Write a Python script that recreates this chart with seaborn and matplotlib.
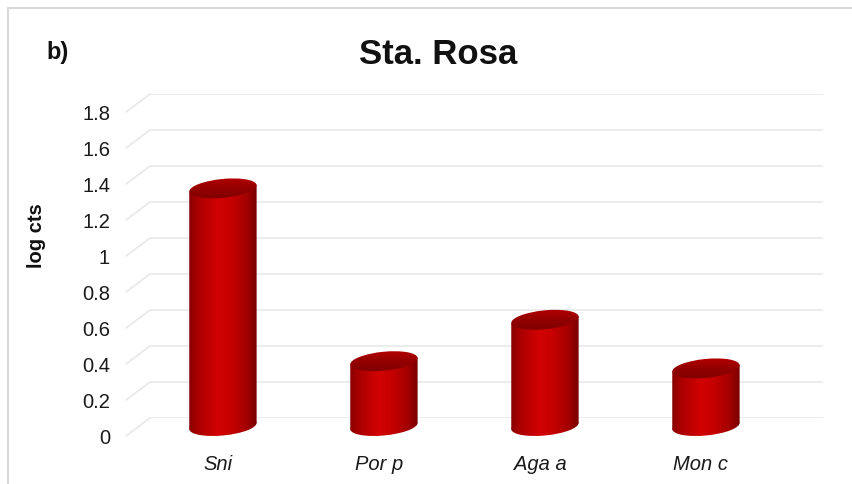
import numpy as np
import pandas as pd
import matplotlib
matplotlib.use("Agg")
import matplotlib.pyplot as plt
from matplotlib.colors import LinearSegmentedColormap
from matplotlib.patches import Ellipse, Polygon, Rectangle
from matplotlib.transforms import ScaledTranslation, IdentityTransform
from matplotlib.lines import Line2D
import seaborn as sns

# Species counts (log scale) at Sta. Rosa
species = ["Sni", "Por p", "Aga a", "Mon c"]
log_cts = [1.32, 0.36, 0.59, 0.32]
y_ticks = [0, 0.2, 0.4, 0.6, 0.8, 1.0, 1.2, 1.4, 1.6, 1.8]
y_tick_labels = ["0", "0.2", "0.4", "0.6", "0.8", "1", "1.2", "1.4", "1.6", "1.8"]

sns.set_style("white")
plt.rcParams["font.family"] = ["Liberation Sans", "DejaVu Sans"]

DPI = 100
W, H = 852, 484
fig = plt.figure(figsize=(W / DPI, H / DPI), dpi=DPI)
fig.patch.set_facecolor("white")

# back wall of the pseudo-3D plot area (pixels)
wall_l, wall_r, wall_top, wall_bot = 150, 823, 94, 418
ax = fig.add_axes([wall_l / W, (H - wall_bot) / H,
                   (wall_r - wall_l) / W, (wall_bot - wall_top) / H])

df = pd.DataFrame({"species": species, "log_cts": log_cts})
sns.barplot(data=df, x="species", y="log_cts", color="#c00000",
            saturation=1, width=0.42, ax=ax, zorder=3)

XLIM = (-0.453, 3.727)
YLIM = (0, 1.8)
ax.set_xlim(*XLIM)
ax.set_ylim(*YLIM)

# depth offsets: bars sit a little in front of the wall, labels at the front edge
def px(dx, dy):
    return ScaledTranslation(dx / DPI, dy / DPI, fig.dpi_scale_trans)

body_tf = ax.transData + px(0, -8)

body_cmap = LinearSegmentedColormap.from_list(
    "cyl", [(0.0, "#860000"), (0.12, "#a80000"), (0.42, "#d20202"),
            (0.62, "#c60000"), (0.85, "#a30000"), (1.0, "#780000")])
top_cmap = LinearSegmentedColormap.from_list(
    "cap", [(0.0, "#7e0000"), (0.55, "#960000"), (1.0, "#b60000")])

cap_h = 0.105        # ellipse height in data units
tilt = np.deg2rad(5)
grad = np.linspace(0, 1, 256)[None, :]
vgrad = np.linspace(1, 0, 128)[:, None] * np.ones((1, 64))


def clipped_image(data, cmap, extent, clip, z):
    im = ax.imshow(data, cmap=cmap, aspect="auto", interpolation="bicubic",
                   extent=extent, zorder=z)
    im.set_transform(body_tf)
    im.set_clip_path(clip)
    im.set_clip_box(fig.bbox)
    return im


for p in list(ax.patches):
    x0, w, h = p.get_x(), p.get_width(), p.get_height()
    xc = x0 + w / 2
    p.set_transform(body_tf)
    p.set_facecolor("none")
    p.set_edgecolor("none")

    hw = w / 2
    dxe, dye = hw * np.cos(tilt), hw * np.sin(tilt)

    # bottom cap
    bot = Ellipse((xc, 0), w, cap_h, angle=np.rad2deg(tilt), transform=body_tf)
    clipped_image(grad, body_cmap, [x0, x0 + w, -cap_h, cap_h], bot, 3)

    # cylinder body
    body = Polygon([(xc - dxe, -dye), (xc + dxe, dye),
                    (xc + dxe, h + dye), (xc - dxe, h - dye)],
                   closed=True, transform=body_tf)
    clipped_image(grad, body_cmap, [x0, x0 + w, -cap_h, h + cap_h], body, 3.1)

    # top cap
    top = Ellipse((xc, h), w, cap_h, angle=np.rad2deg(tilt), transform=body_tf)
    clipped_image(vgrad, top_cmap, [x0, x0 + w, h - cap_h * 0.6, h + cap_h * 0.6], top, 3.2)

ax.set_xlim(*XLIM)
ax.set_ylim(*YLIM)

# wall gridlines
ax.set_yticks(y_ticks)
ax.set_yticklabels(y_tick_labels)
ax.yaxis.grid(True, color="#e9e9e9", linewidth=1.2)
ax.xaxis.grid(False)
ax.set_axisbelow(True)
for s in ax.spines.values():
    s.set_visible(False)
ax.set_xlabel("")
ax.set_ylabel("")

ax.tick_params(axis="y", length=0, pad=11.5, labelsize=14.5, labelcolor="#1a1a1a")
ax.tick_params(axis="x", length=0, pad=26.5, labelsize=14.5, labelcolor="#1a1a1a")
for lab in ax.get_yticklabels():
    lab.set_transform(lab.get_transform() + px(-24, -18))
for lab in ax.get_xticklabels():
    lab.set_fontstyle("italic")
    lab.set_transform(lab.get_transform() + px(-5, 0))

# floor-to-wall diagonals at each gridline
fig.canvas.draw()
for v in y_ticks:
    bx, by = ax.get_yaxis_transform().transform((0, v))
    fig.add_artist(Line2D([bx - 24, bx], [by - 18, by], transform=IdentityTransform(),
                          color="#e9e9e9", linewidth=1.2))

# titles
fig.text(438.5 / W, 1 - 54 / H, "Sta. Rosa", ha="center", va="center",
         fontsize=25, fontweight="bold", color="#111111")
fig.text(46 / W, 1 - 52 / H, "b)", ha="left", va="center",
         fontsize=17, fontweight="bold", color="#111111")
fig.text(36 / W, 1 - 236 / H, "log cts", rotation=90, ha="center", va="center",
         fontsize=14.5, fontweight="bold", color="#111111")

# outer frame
fig.add_artist(Rectangle((8 / W, -0.1), 2, 1 - 8 / H + 0.1, transform=fig.transFigure,
                         fill=False, edgecolor="#d9d9d9", linewidth=1.5))

fig.savefig("out.png", dpi=DPI, facecolor="white")
